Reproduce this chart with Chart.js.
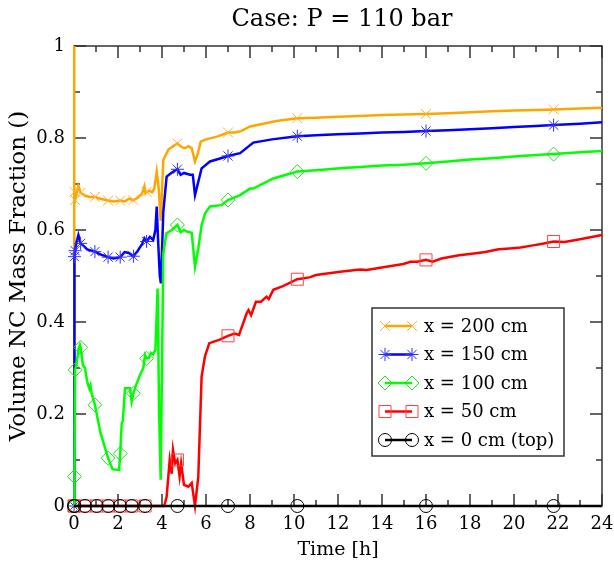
<!DOCTYPE html>
<html>
<head>
<meta charset="utf-8">
<script src="https://cdn.jsdelivr.net/npm/chart.js@4.4.1/dist/chart.umd.min.js"></script>
<style>
  html, body { margin: 0; padding: 0; background: #fff; }
</style>
</head>
<body>
<canvas id="chart" width="614" height="566"></canvas>
<script>
// series data: [time h, volume NC mass fraction]
const s200 = [[0,0],[0.005,1],[0.01,0.78],[0.02,0.683],[0.05,0.665],[0.12,0.68],[0.2,0.696],[0.3,0.681],[0.5,0.675],[0.7,0.672],[0.95,0.672],[1.2,0.668],[1.55,0.664],[1.8,0.662],[2.1,0.664],[2.3,0.662],[2.5,0.668],[2.7,0.665],[2.9,0.67],[3.1,0.68],[3.2,0.695],[3.25,0.68],[3.3,0.683],[3.45,0.685],[3.55,0.682],[3.65,0.69],[3.76,0.727],[3.85,0.69],[3.94,0.62],[4.06,0.752],[4.29,0.775],[4.5,0.782],[4.7,0.788],[4.9,0.78],[5.05,0.778],[5.2,0.782],[5.35,0.778],[5.5,0.749],[5.62,0.765],[5.76,0.792],[6,0.797],[6.5,0.803],[7,0.812],[7.3,0.812],[7.6,0.815],[8,0.825],[8.5,0.83],[9.2,0.837],[10.15,0.843],[11,0.844],[12,0.846],[13,0.848],[14,0.85],[15,0.851],[16,0.852],[17,0.854],[18,0.856],[19,0.858],[20,0.86],[21,0.861],[21.8,0.862],[23,0.864],[24,0.866]];
const s150 = [[0,0],[0.02,0.542],[0.05,0.555],[0.12,0.575],[0.2,0.589],[0.3,0.571],[0.45,0.565],[0.6,0.558],[0.8,0.555],[0.95,0.553],[1.2,0.547],[1.55,0.541],[1.8,0.538],[2.1,0.541],[2.3,0.552],[2.5,0.55],[2.7,0.543],[2.9,0.555],[3.1,0.57],[3.2,0.582],[3.3,0.575],[3.45,0.585],[3.6,0.578],[3.7,0.6],[3.76,0.651],[3.82,0.58],[3.9,0.5],[3.95,0.484],[4.06,0.64],[4.21,0.716],[4.45,0.725],[4.7,0.732],[4.85,0.72],[5,0.724],[5.27,0.72],[5.4,0.72],[5.5,0.676],[5.65,0.705],[5.8,0.734],[6.18,0.749],[6.6,0.755],[7,0.761],[7.55,0.767],[8.15,0.79],[9,0.797],[10.15,0.804],[11,0.806],[12,0.808],[13,0.81],[14,0.812],[15,0.813],[16,0.815],[17,0.817],[18,0.819],[19,0.821],[20,0.824],[21,0.826],[21.8,0.828],[23,0.831],[24,0.834]];
const s100 = [[0,0],[0.02,0.064],[0.05,0.296],[0.12,0.31],[0.2,0.34],[0.27,0.35],[0.3,0.345],[0.4,0.307],[0.5,0.3],[0.6,0.27],[0.7,0.255],[0.75,0.262],[0.8,0.245],[0.95,0.22],[1.2,0.16],[1.55,0.104],[1.75,0.08],[2.05,0.078],[2.1,0.114],[2.17,0.18],[2.22,0.185],[2.32,0.256],[2.55,0.256],[2.62,0.227],[2.7,0.245],[2.8,0.26],[3,0.285],[3.15,0.3],[3.23,0.328],[3.3,0.321],[3.4,0.322],[3.5,0.333],[3.6,0.33],[3.7,0.34],[3.8,0.473],[3.87,0.2],[3.94,0.057],[4.06,0.549],[4.2,0.593],[4.45,0.6],[4.7,0.611],[4.85,0.595],[5,0.6],[5.15,0.596],[5.35,0.594],[5.5,0.52],[5.65,0.56],[5.8,0.61],[5.95,0.635],[6.18,0.651],[6.7,0.654],[7,0.665],[7.55,0.676],[8,0.69],[8.15,0.69],[9.06,0.712],[10.15,0.727],[11,0.73],[12.1,0.734],[13,0.737],[14,0.74],[15,0.742],[16,0.745],[17,0.749],[18,0.753],[19,0.756],[20,0.76],[21,0.763],[21.8,0.765],[23,0.769],[24,0.772]];
const s50 = [[0,0],[0.02,0],[0.5,0],[1.03,0],[1.56,0],[2.09,0],[2.62,0],[3.23,0],[4.1,0],[4.21,0.02],[4.35,0.1],[4.44,0.07],[4.5,0.122],[4.6,0.093],[4.7,0.1],[4.8,0.064],[4.87,0.093],[5,0.046],[5.2,0.042],[5.35,0.05],[5.5,0],[5.65,0.064],[5.8,0.281],[5.95,0.325],[6.15,0.354],[6.6,0.361],[7,0.37],[7.3,0.375],[7.5,0.372],[7.85,0.419],[7.93,0.426],[8.05,0.415],[8.27,0.444],[8.5,0.444],[8.75,0.455],[8.85,0.45],[9.06,0.47],[9.5,0.478],[10.15,0.493],[10.7,0.497],[11,0.502],[12.1,0.509],[13,0.514],[13.3,0.513],[14.2,0.52],[14.97,0.526],[15.3,0.531],[15.6,0.531],[16,0.535],[16.3,0.531],[16.7,0.538],[17.5,0.545],[18,0.548],[18.7,0.552],[19.3,0.558],[19.8,0.56],[20.3,0.562],[20.8,0.566],[21.3,0.57],[21.8,0.575],[22.3,0.574],[23,0.58],[24,0.589]];
const s0 = [[0,0],[0.02,0],[0.5,0],[1.03,0],[1.56,0],[2.09,0],[2.62,0],[3.23,0],[4.7,0],[7,0],[10.15,0],[16,0],[21.8,0],[24,0]];

// times where a symbol is drawn on the curve
const markTimes = [0, 0.02, 0.05, 0.3, 0.95, 1.55, 2.1, 2.7, 3.3, 4.7, 7, 10.15, 16, 21.8];
const markTimesLow = [0, 0.02, 0.5, 1.03, 1.56, 2.09, 2.62, 3.23, 4.7, 7, 10.15, 16, 21.8];

const seriesLabels = ["x = 200 cm", "x = 150 cm", "x = 100 cm", "x = 50 cm", "x = 0 cm (top)"];
const xTicks = [0, 2, 4, 6, 8, 10, 12, 14, 16, 18, 20, 22, 24];
const yTicks = [0, 0.2, 0.4, 0.6, 0.8, 1];
const yTickLabels = ["0", "0.2", "0.4", "0.6", "0.8", "1"];

const FONT = '"DejaVu Serif", serif';

const styles = [
    { color: "#ffa500", mark: "#ffb030", style: "crossRot", r: 7, marks: markTimes },
    { color: "#0000ff", mark: "#3030ff", style: "star", r: 6.5, marks: markTimes },
    { color: "#00ff00", mark: "#20e020", style: "rectRot", r: 7, marks: markTimes },
    { color: "#ff0000", mark: "#ff4040", style: "rect", r: 8.5, marks: markTimesLow },
    { color: "#000000", mark: "#000000", style: "circle", r: 6.5, marks: markTimesLow }
];
const allSeries = [s200, s150, s100, s50, s0];

const datasets = allSeries.map(function(s, i) {
    const st = styles[i];
    return {
        label: seriesLabels[i],
        data: s.map(p => ({ x: p[0], y: p[1] })),
        showLine: true,
        borderColor: st.color,
        borderWidth: 2.5,
        pointStyle: st.style,
        pointBorderColor: st.mark,
        pointBackgroundColor: "rgba(0,0,0,0)",
        pointBorderWidth: 1,
        pointRadius: ctx => st.marks.includes(ctx.raw.x) ? st.r : 0,
        pointHoverRadius: 0,
        clip: 12,
        order: 4 - i
    };
});

// frame, inward ticks, tick labels, titles
const axesPlugin = {
    id: "graceAxes",
    beforeDatasetsDraw(chart) {
        const ctx = chart.ctx;
        const a = chart.chartArea;
        const xs = chart.scales.x, ys = chart.scales.y;
        ctx.save();
        ctx.strokeStyle = "#333";
        ctx.lineWidth = 1.5;
        ctx.strokeRect(a.left, a.top, a.right - a.left, a.bottom - a.top);
        ctx.beginPath();
        for (let t = 0; t <= 24; t++) {
            const px = xs.getPixelForValue(t);
            const len = t % 2 == 0 ? 12 : 6;
            ctx.moveTo(px, a.bottom); ctx.lineTo(px, a.bottom - len);
            ctx.moveTo(px, a.top); ctx.lineTo(px, a.top + len);
        }
        for (let k = 0; k <= 10; k++) {
            const py = ys.getPixelForValue(k / 10);
            const len = k % 2 == 0 ? 12 : 6;
            ctx.moveTo(a.left, py); ctx.lineTo(a.left + len, py);
            ctx.moveTo(a.right, py); ctx.lineTo(a.right - len, py);
        }
        ctx.stroke();
        ctx.restore();
    },
    afterDraw(chart) {
        const ctx = chart.ctx;
        const a = chart.chartArea;
        const xs = chart.scales.x, ys = chart.scales.y;
        ctx.save();
        ctx.fillStyle = "#000";
        ctx.font = "18px " + FONT;
        ctx.textAlign = "center";
        ctx.textBaseline = "middle";
        xTicks.forEach(t => ctx.fillText(String(t), xs.getPixelForValue(t), a.bottom + 18));
        ctx.textAlign = "right";
        yTicks.forEach((v, i) => ctx.fillText(yTickLabels[i], a.left - 9, ys.getPixelForValue(v)));

        ctx.textAlign = "center";
        ctx.font = "19px " + FONT;
        ctx.fillText("Time [h]", (a.left + a.right) / 2, a.bottom + 44);
        ctx.save();
        ctx.font = "23px " + FONT;
        ctx.translate(19, (a.top + a.bottom) / 2);
        ctx.rotate(-Math.PI / 2);
        ctx.fillText("Volume NC Mass Fraction ()", 0, 0);
        ctx.restore();

        ctx.font = "24px " + FONT;
        ctx.fillText("Case: P = 110 bar", (a.left + a.right) / 2 + 4, 20);

        // legend box
        const lx = 372, ly = 308, lw = 192, lh = 148;
        ctx.fillStyle = "#fff";
        ctx.fillRect(lx, ly, lw, lh);
        ctx.strokeStyle = "#333";
        ctx.lineWidth = 1.5;
        ctx.strokeRect(lx, ly, lw, lh);
        ctx.font = "18px " + FONT;
        ctx.textAlign = "left";
        seriesLabels.forEach((lab, i) => {
            const st = styles[i];
            const y = 326 + i * 28.5;
            ctx.strokeStyle = st.color;
            ctx.lineWidth = 2.5;
            ctx.beginPath(); ctx.moveTo(385, y); ctx.lineTo(412, y); ctx.stroke();
            ctx.strokeStyle = st.mark;
            ctx.fillStyle = "rgba(0,0,0,0)";
            ctx.lineWidth = 1;
            [385, 412].forEach(px => Chart.helpers.drawPoint(ctx, { pointStyle: st.style, radius: st.r, rotation: 0, borderWidth: 1 }, px, y));
            ctx.fillStyle = "#000";
            ctx.fillText(lab, 424, y + 1);
        });
        ctx.restore();
    }
};

const chart = new Chart(document.getElementById("chart"), {
    type: "scatter",
    data: { datasets: datasets },
    options: {
        responsive: false,
        animation: false,
        events: [],
        devicePixelRatio: 1,
        layout: { padding: { left: 74, right: 12, top: 46, bottom: 60 } },
        plugins: { legend: { display: false }, tooltip: { enabled: false }, title: { display: false } },
        scales: {
            x: { type: "linear", min: 0, max: 24, display: false },
            y: { type: "linear", min: 0, max: 1, display: false }
        }
    },
    plugins: [axesPlugin]
});
</script>
</body>
</html>
